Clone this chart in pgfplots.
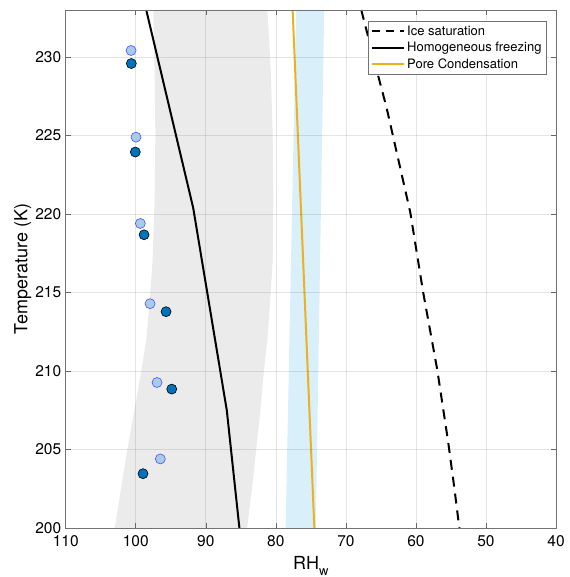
\documentclass[border=0pt]{standalone}
\usepackage{pgfplots}
\pgfplotsset{compat=1.18}
\usepackage{fontspec}
\setmainfont{TeX Gyre Heros}
\definecolor{bandgray}{HTML}{EBEBEB}
\definecolor{bandblue}{HTML}{D9EFFA}
\definecolor{myorange}{RGB}{237,177,32}
\definecolor{darkpt}{HTML}{0072BD}
\definecolor{lightpt}{RGB}{168,204,230}
\definecolor{lightedge}{RGB}{77,77,255}
\begin{document}
\begin{tikzpicture}
\begin{axis}[
  scale only axis,
  width=490.3pt, height=518pt,
  x dir=reverse,
  xmin=40, xmax=110, ymin=200, ymax=233,
  xtick={40,50,...,110}, ytick={200,205,...,230},
  /pgf/number format/assume math mode=true,
  tick label style={font=\fontsize{15.5}{17}\selectfont},
  x tick label style={yshift=-4pt},
  y tick label style={xshift=-1pt},
  xlabel={RH\raisebox{-0.6ex}{\fontsize{13}{14}\selectfont w}},
  ylabel={Temperature (K)},
  xlabel style={font=\fontsize{18}{20}\selectfont, at={(axis description cs:0.5,-0.055)}, anchor=north, inner sep=0pt},
  ylabel style={font=\fontsize{18}{20}\selectfont, at={(axis description cs:-0.0875,0.5)}, anchor=center, inner sep=0pt},
  grid=major,
  major grid style={black, opacity=0.1, line width=0.6pt},
  axis on top,
  tick align=inside, xtick pos=both, ytick pos=both,
  major tick length=5pt,
  tick style={black!60, line width=0.5pt},
  axis line style={black!55, line width=0.6pt},
  legend style={at={(rel axis cs:0.981,0.979)}, anchor=north east,
    font=\fontsize{13}{14}\selectfont, draw=black!55, fill=white,
    inner xsep=3pt, inner ysep=2.5pt, row sep=1.5pt},
  legend cell align=left,
]
\coordinate (sw) at (rel axis cs:0,0);
% gray band (homogeneous freezing uncertainty)
\addplot[draw=none, fill=bandgray, forget plot] coordinates {
  (97.5,233) (97.3,229) (97.2,225) (97.3,221) (97.6,217) (98.0,214.5)
  (98.5,212) (99.2,210) (100.0,208) (101.2,205) (102.1,202.5) (103.0,200)
  (84.1,200) (83.4,202.5) (82.8,205) (82.2,207.5) (81.7,210) (81.2,212)
  (80.8,214.5) (80.45,217) (80.35,221) (80.45,225) (80.7,229) (81.2,233)
} -- cycle;
% blue band (pore condensation)
\addplot[draw=none, fill=bandblue, forget plot] coordinates {
  (77.1,233) (78.6,200) (74.3,200) (73.1,233)
} -- cycle;
\addplot[draw=black, line width=2pt, dash pattern=on 10pt off 7pt,
  legend image code/.code={\draw[draw=black, line width=2pt, dash pattern=on 8pt off 6pt] (0pt,0pt) -- (32pt,0pt);}] coordinates {
  (67.8,233) (65.5,229.0) (64.2,226.8) (60.8,220.1) (58.96,215.0)
  (56.96,210.1) (55.4,205.5) (54.5,202.5) (53.8,200)
};
\addlegendentry{Ice saturation}
\addplot[draw=black, line width=2pt,
  legend image code/.code={\draw[draw=black, line width=2pt] (0pt,0pt) -- (32pt,0pt);}] coordinates {
  (98.5,233) (91.8,220.4) (87.0,207.5) (85.2,200)
};
\addlegendentry{Homogeneous freezing}
\addplot[draw=myorange, line width=2pt,
  legend image code/.code={\draw[draw=myorange, line width=2.2pt] (0pt,0pt) -- (32pt,0pt);}] coordinates {
  (77.6,233) (74.5,200)
};
\addlegendentry{Pore Condensation}
% observations
\addplot[only marks, mark=*, mark size=5pt, mark options={fill=lightpt, draw=lightedge, line width=0.6pt}, forget plot] coordinates {
  (100.67,230.42) (99.96,224.9) (99.34,219.4) (97.96,214.29) (96.96,209.27) (96.49,204.4)
};
\addplot[only marks, mark=*, mark size=5pt, mark options={fill=darkpt, draw=black, line width=0.6pt}, forget plot] coordinates {
  (100.63,229.59) (100.06,223.95) (98.81,218.68) (95.67,213.78) (94.86,208.85) (98.96,203.46)
};
\end{axis}
\pgfresetboundingbox
\path[use as bounding box] (sw) ++(-65.7pt,-49pt) rectangle ++(569pt,577pt);
\end{tikzpicture}
\end{document}
